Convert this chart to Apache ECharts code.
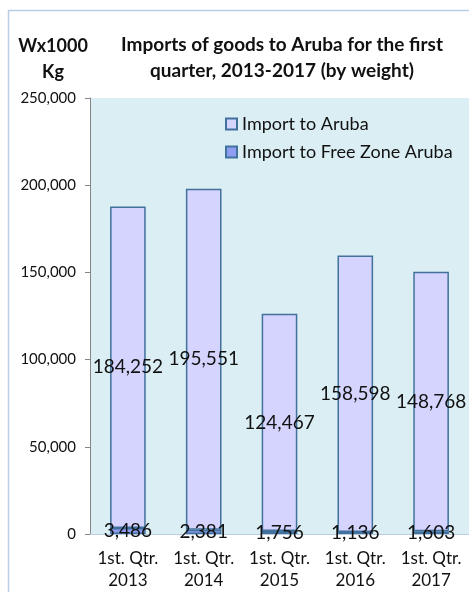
<!DOCTYPE html>
<html>
<head>
<meta charset="utf-8">
<script src="https://cdn.jsdelivr.net/npm/echarts@6/dist/echarts.min.js"></script>
<style>
  html, body { margin: 0; padding: 0; background: #fff; }
  #chart { width: 469px; height: 592px; }
</style>
</head>
<body>
<div id="chart"></div>
<script>
const categories = ['1st. Qtr.\n2013', '1st. Qtr.\n2014', '1st. Qtr.\n2015', '1st. Qtr.\n2016', '1st. Qtr.\n2017'];
const freeZone = [3486, 2381, 1756, 1136, 1603];
const aruba = [184252, 195551, 124467, 158598, 148768];
const yTicks = [0, 50000, 100000, 150000, 200000, 250000];

const FONT = 'Lato';
const fmt = (v) => Number(v).toLocaleString('en-US');

const chart = echarts.init(document.getElementById('chart'));

const option = {
  animation: false,
  textStyle: { fontFamily: FONT },
  graphic: [
    {
      type: 'rect',
      shape: { x: 8.5, y: 10.5, width: 480, height: 600 },
      style: { fill: 'none', stroke: '#B9CDE5', lineWidth: 1.5 },
      z: -1,
    },
    {
      type: 'text',
      x: 53,
      y: 33,
      style: {
        text: 'Wx1000\nKg',
        font: 'bold 18px ' + FONT,
        fill: '#111',
        align: 'center',
        lineHeight: 26,
      },
    },
    {
      type: 'text',
      x: 282,
      y: 32,
      style: {
        text: 'Imports of goods to Aruba for the first\nquarter, 2013-2017 (by weight)',
        font: 'bold 19px ' + FONT,
        fill: '#111',
        align: 'center',
        lineHeight: 26,
      },
    },
  ],
  legend: {
    orient: 'vertical',
    left: 220,
    top: 110,
    itemWidth: 11,
    itemHeight: 11,
    itemGap: 10,
    icon: 'rect',
    textStyle: { fontSize: 18, color: '#111', fontFamily: FONT },
    data: ['Import to Aruba', 'Import to Free Zone Aruba'],
  },
  grid: {
    left: 90,
    right: -4,
    top: 98,
    bottom: 57,
    show: true,
    backgroundColor: '#DAEEF3',
    borderWidth: 0,
  },
  xAxis: {
    type: 'category',
    data: categories,
    axisLine: { lineStyle: { color: '#B9CDE5', width: 1 } },
    axisTick: { show: false },
    axisLabel: {
      color: '#111',
      fontSize: 17,
      fontFamily: FONT,
      lineHeight: 22,
      margin: 14,
      interval: 0,
    },
  },
  yAxis: {
    type: 'value',
    min: 0,
    max: 250000,
    interval: 50000,
    axisLine: { show: true, lineStyle: { color: '#868686' } },
    axisTick: { show: true, length: 5, lineStyle: { color: '#868686' } },
    splitLine: { show: false },
    axisLabel: {
      color: '#111',
      fontSize: 15,
      fontFamily: FONT,
      margin: 14,
      formatter: (v) => yTicks.includes(v) ? fmt(v) : '',
    },
  },
  series: [
    {
      name: 'Import to Free Zone Aruba',
      type: 'bar',
      stack: 'total',
      barWidth: '47%',
      data: freeZone,
      itemStyle: { color: '#8E9CF2', borderColor: '#41719C', borderWidth: 1.5 },
      label: {
        show: true,
        position: 'inside',
        color: '#111',
        fontSize: 19,
        fontFamily: FONT,
        formatter: (p) => fmt(p.value),
      },
    },
    {
      name: 'Import to Aruba',
      type: 'bar',
      stack: 'total',
      barWidth: '47%',
      data: aruba,
      itemStyle: { color: '#D4D4FF', borderColor: '#41719C', borderWidth: 1.5 },
      label: {
        show: true,
        position: 'inside',
        color: '#111',
        fontSize: 19,
        fontFamily: FONT,
        formatter: (p) => fmt(p.value),
      },
    },
  ],
};

chart.setOption(option);
</script>
</body>
</html>
